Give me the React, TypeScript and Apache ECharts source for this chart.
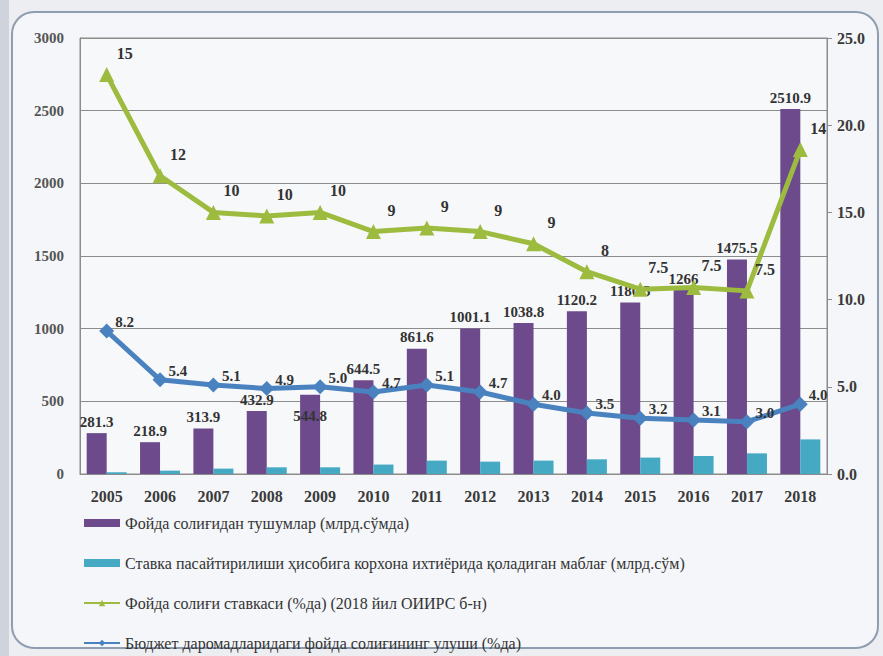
import React, { useEffect, useRef } from "react";
import * as echarts from "echarts";

const years = ["2005", "2006", "2007", "2008", "2009", "2010", "2011", "2012", "2013", "2014", "2015", "2016", "2017", "2018"];
const taxRevenue = [281.3, 218.9, 313.9, 432.9, 544.8, 644.5, 861.6, 1001.1, 1038.8, 1120.2, 1180.5, 1266, 1475.5, 2510.9];
const retainedFunds = [12, 23, 37, 46, 46, 65, 92, 85, 92, 101, 113, 124, 142, 238];
// tax rate as labelled in the chart, and as positioned against the right axis
const taxRateLabels = ["15", "12", "10", "10", "10", "9", "9", "9", "9", "8", "7.5", "7.5", "7.5", "14"];
const taxRatePlotted = [22.9, 17.1, 15.0, 14.8, 15.0, 13.9, 14.1, 13.9, 13.2, 11.6, 10.6, 10.7, 10.5, 18.6];
const budgetShare = [8.2, 5.4, 5.1, 4.9, 5.0, 4.7, 5.1, 4.7, 4.0, 3.5, 3.2, 3.1, 3.0, 4.0];
// bar labels that sit inside the bar top in the reference
const insideLabelYears = ["2009"];

const seriesNames = [
  "Фойда солиғидан тушумлар (млрд.сўмда)",
  "Ставка пасайтирилиши ҳисобига корхона ихтиёрида қоладиган маблағ (млрд.сўм)",
  "Фойда солиғи ставкаси (%да) (2018 йил ОИИРС б-н)",
  "Бюджет даромадларидаги фойда солиғининг улуши (%да)",
];

const FONT = "'Liberation Serif', 'DejaVu Serif', serif";
const TEXT = "#333333";
const GRID = "#8c8c8c";

export default function App() {
  const ref = useRef<HTMLDivElement>(null);
  useEffect(() => {
    if (!ref.current) return;
    const chart = echarts.init(ref.current, null, { renderer: "svg" });
    const revenueData = taxRevenue.map((v, i) =>
      insideLabelYears.includes(years[i])
        ? { value: v, label: { position: "insideTop", distance: 14 } }
        : v
    );
    chart.setOption({
      animation: false,
      backgroundColor: "#eceef2",
      textStyle: { fontFamily: FONT },
      graphic: [
        {
          type: "rect",
          z: -10,
          shape: { x: 12, y: 12, width: 866, height: 636, r: 22 },
          style: { fill: "#f4f6f9", stroke: "#8e9db0", lineWidth: 2 },
        },
        {
          type: "rect",
          z: -11,
          shape: { x: 0, y: 0, width: 9, height: 656 },
          style: { fill: "#cfd4dc" },
        },
      ],
      grid: { left: 80, right: 56, top: 38, bottom: 182, show: true, backgroundColor: "#f7f8fa", borderColor: GRID, borderWidth: 1 },
      legend: {
        orient: "vertical",
        left: 83,
        top: 515,
        height: 141,
        itemWidth: 36,
        itemHeight: 8,
        itemGap: 24,
        padding: 0,
        textStyle: { fontFamily: FONT, fontSize: 16, color: TEXT },
        data: [
          { name: seriesNames[0], icon: "rect" },
          { name: seriesNames[1], icon: "rect" },
          { name: seriesNames[2] },
          { name: seriesNames[3] },
        ],
      },
      xAxis: {
        type: "category",
        data: years,
        axisLine: { lineStyle: { color: GRID } },
        axisTick: { show: false },
        axisLabel: { color: "#3a3a3a", fontSize: 16, fontWeight: "bold", fontFamily: FONT, margin: 14 },
      },
      yAxis: [
        {
          type: "value",
          min: 0,
          max: 3000,
          interval: 500,
          axisLine: { show: true, lineStyle: { color: GRID } },
          axisTick: { show: false },
          splitLine: { lineStyle: { color: GRID, width: 1 } },
          axisLabel: { color: "#555", fontSize: 15, fontWeight: "bold", fontFamily: FONT, margin: 16, formatter: (v: number) => String(v) },
        },
        {
          type: "value",
          min: 0,
          max: 25,
          interval: 5,
          position: "right",
          axisLine: { show: true, lineStyle: { color: GRID } },
          axisTick: { show: true, length: 5, lineStyle: { color: GRID } },
          splitLine: { show: false },
          axisLabel: { color: "#3a3a3a", fontSize: 16, fontWeight: "bold", fontFamily: FONT, margin: 10, formatter: (v: number) => v.toFixed(1) },
        },
      ],
      series: [
        {
          name: seriesNames[0],
          type: "bar",
          data: revenueData,
          barWidth: 20,
          barGap: "0%",
          itemStyle: { color: "#6c4a8c" },
          label: { show: true, position: "top", distance: 4, color: TEXT, fontSize: 15, fontFamily: FONT, fontWeight: "bold" },
          z: 2,
        },
        {
          name: seriesNames[1],
          type: "bar",
          data: retainedFunds,
          barWidth: 20,
          barGap: "0%",
          itemStyle: { color: "#45a9c4" },
          z: 2,
        },
        {
          name: seriesNames[2],
          type: "line",
          yAxisIndex: 1,
          data: taxRatePlotted,
          symbol: "triangle",
          symbolSize: 15,
          lineStyle: { color: "#9dbb3e", width: 5 },
          itemStyle: { color: "#9dbb3e" },
          label: {
            show: true,
            position: "top",
            distance: 6,
            offset: [18, 0],
            color: TEXT,
            fontSize: 16,
            fontFamily: FONT,
            fontWeight: "bold",
            formatter: (p: any) => taxRateLabels[p.dataIndex],
          },
          z: 5,
        },
        {
          name: seriesNames[3],
          type: "line",
          yAxisIndex: 1,
          data: budgetShare,
          symbol: "diamond",
          symbolSize: 15,
          lineStyle: { color: "#4a82c0", width: 5 },
          itemStyle: { color: "#4a82c0" },
          label: {
            show: true,
            position: "right",
            distance: 1,
            offset: [0, -9],
            color: TEXT,
            fontSize: 15,
            fontFamily: FONT,
            fontWeight: "bold",
            formatter: (p: any) => (p.value as number).toFixed(1),
          },
          z: 5,
        },
      ],
    });
    return () => chart.dispose();
  }, []);
  return <div ref={ref} style={{ position: "absolute", left: 0, top: 0, width: 883, height: 656 }} />;
}
